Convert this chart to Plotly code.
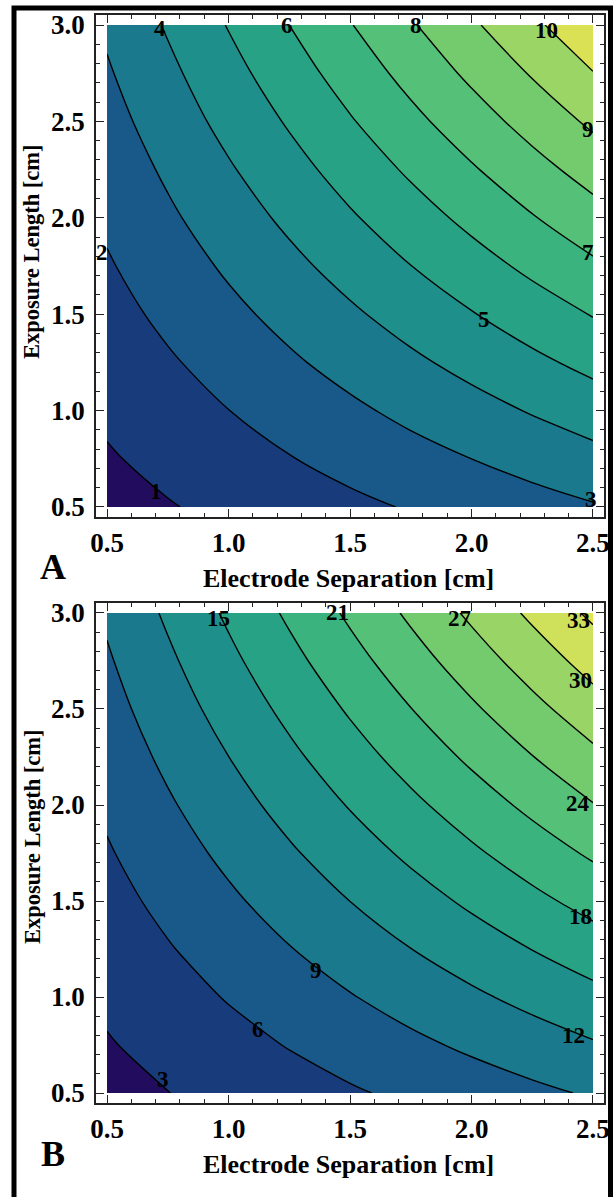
import plotly.graph_objects as go

# ---------------- data ----------------
x_sep = [0.5, 0.75, 1.0, 1.25, 1.5, 1.75, 2.0, 2.25, 2.5]
y_len = [0.5, 0.75, 1.0, 1.25, 1.5, 1.75, 2.0, 2.25, 2.5, 2.75, 3.0]

# panel A values (rows = exposure length, cols = electrode separation)
z_a = [
    [0.66, 0.94, 1.23, 1.51, 1.79, 2.07, 2.36, 2.64, 2.92],
    [0.91, 1.26, 1.61, 1.96, 2.31, 2.66, 3.00, 3.35, 3.70],
    [1.16, 1.57, 1.99, 2.41, 2.82, 3.24, 3.65, 4.07, 4.49],
    [1.41, 1.89, 2.37, 2.86, 3.34, 3.82, 4.30, 4.79, 5.27],
    [1.66, 2.21, 2.76, 3.30, 3.85, 4.40, 4.95, 5.50, 6.05],
    [1.91, 2.52, 3.14, 3.75, 4.37, 4.99, 5.60, 6.22, 6.84],
    [2.15, 2.84, 3.52, 4.20, 4.89, 5.57, 6.25, 6.94, 7.62],
    [2.40, 3.15, 3.90, 4.65, 5.40, 6.15, 6.90, 7.65, 8.40],
    [2.65, 3.47, 4.29, 5.10, 5.92, 6.74, 7.55, 8.37, 9.18],
    [2.90, 3.78, 4.67, 5.55, 6.43, 7.32, 8.20, 9.08, 9.97],
    [3.15, 4.10, 5.05, 6.00, 6.95, 7.90, 8.85, 9.80, 10.75],
]

# panel B values
z_b = [
    [2.05, 2.96, 3.86, 4.77, 5.68, 6.58, 7.49, 8.39, 9.30],
    [2.79, 3.91, 5.02, 6.14, 7.26, 8.38, 9.49, 10.61, 11.73],
    [3.52, 4.85, 6.18, 7.51, 8.84, 10.17, 11.50, 12.83, 14.16],
    [4.26, 5.80, 7.34, 8.88, 10.43, 11.97, 13.51, 15.05, 16.59],
    [5.00, 6.75, 8.50, 10.26, 12.01, 13.76, 15.52, 17.27, 19.02],
    [5.74, 7.70, 9.66, 11.63, 13.59, 15.56, 17.52, 19.49, 21.45],
    [6.47, 8.65, 10.82, 13.00, 15.18, 17.35, 19.53, 21.70, 23.88],
    [7.21, 9.60, 11.98, 14.37, 16.76, 19.15, 21.54, 23.92, 26.31],
    [7.95, 10.55, 13.15, 15.74, 18.34, 20.94, 23.54, 26.14, 28.74],
    [8.68, 11.49, 14.31, 17.12, 19.93, 22.74, 25.55, 28.36, 31.17],
    [9.42, 12.44, 15.47, 18.49, 21.51, 24.53, 27.56, 30.58, 33.60],
]

levels_a = (1, 10, 1)
levels_b = (3, 33, 3)

x_ticks = [0.5, 1.0, 1.5, 2.0, 2.5]
x_ticktext = ["0.5", "1.0", "1.5", "2.0", "2.5"]
y_ticks = [0.5, 1.0, 1.5, 2.0, 2.5, 3.0]
y_ticktext = ["0.5", "1.0", "1.5", "2.0", "2.5", "3.0"]

# contour labels (text + where they sit in the picture)
lab_a_text = ["1", "2", "3", "4", "5", "6", "7", "8", "9", "10"]
lab_a_x = [0.70, 0.48, 2.49, 0.72, 2.05, 1.24, 2.48, 1.77, 2.48, 2.31]
lab_a_y = [0.58, 1.82, 0.54, 2.98, 1.47, 3.00, 1.82, 3.00, 2.46, 2.97]

lab_b_text = ["3", "6", "9", "12", "15", "18", "21", "24", "27", "30", "33"]
lab_b_x = [0.73, 1.12, 1.36, 2.42, 0.96, 2.45, 1.45, 2.44, 1.95, 2.45, 2.44]
lab_b_y = [0.57, 0.83, 1.14, 0.80, 2.97, 1.42, 3.00, 2.01, 2.97, 2.65, 2.96]

band_colors_a = ["#210c5d", "#173b7b", "#18598a", "#1a798c", "#1e8f8a", "#27a285",
                 "#3ab37f", "#55c078", "#73cb6e", "#9ad566", "#dae154"]
band_colors_b = ["#210c5d", "#173b7b", "#18598a", "#1a798c", "#1e8f8a", "#27a285",
                 "#3ab37f", "#55c078", "#73cb6e", "#98d466", "#cfe05a", "#e4e450"]

x_title = "Electrode Separation [cm]"
y_title = "Exposure Length [cm]"


def band_scale(colors):
    n = len(colors) - 1
    return [[i / n, c] for i, c in enumerate(colors)]


SERIF = "Liberation Serif"

fig = go.Figure()
fig.add_trace(go.Contour(
    x=x_sep, y=y_len, z=z_a, xaxis="x", yaxis="y",
    autocontour=False,
    contours=dict(start=levels_a[0], end=levels_a[1], size=levels_a[2], coloring="fill"),
    colorscale=band_scale(band_colors_a), showscale=False,
    line=dict(color="black", width=1.4, smoothing=1),
    hoverinfo="skip",
))
fig.add_trace(go.Contour(
    x=x_sep, y=y_len, z=z_b, xaxis="x2", yaxis="y2",
    autocontour=False,
    contours=dict(start=levels_b[0], end=levels_b[1], size=levels_b[2], coloring="fill"),
    colorscale=band_scale(band_colors_b), showscale=False,
    line=dict(color="black", width=1.4, smoothing=1),
    hoverinfo="skip",
))

W, H = 613, 1197
ML, MR, MT, MB = 96, 9, 15, 94
PW, PH = W - ML - MR, H - MT - MB


def px_x(p):
    return (p - ML) / PW


def px_y(p):
    return (H - MB - p) / PH


common = dict(
    showline=True, linecolor="#222", linewidth=1.5, mirror="allticks",
    ticks="inside", ticklen=8, tickwidth=1.2, tickcolor="#222",
    tickfont=dict(family=SERIF, size=27, color="black", weight="bold"),
    showgrid=False, zeroline=False, automargin=False,
    minor=dict(ticks="inside", ticklen=4, tickwidth=1, tickcolor="#222",
               dtick=0.1, tick0=0.5, showgrid=False),
)
xr = [0.4547, 2.5453]
yr = [0.448, 3.052]

fig.update_layout(
    width=W, height=H, margin=dict(l=ML, r=MR, t=MT, b=MB, autoexpand=False),
    paper_bgcolor="white", plot_bgcolor="white", showlegend=False,
    xaxis=dict(domain=[0, 1], anchor="y", range=xr, tickvals=x_ticks, ticktext=x_ticktext,
               ticklabelstandoff=1, **common),
    yaxis=dict(domain=[px_y(517), 1], anchor="x", range=yr, tickvals=y_ticks, ticktext=y_ticktext,
               ticklabelstandoff=4, **common),
    xaxis2=dict(domain=[0, 1], anchor="y2", range=xr, tickvals=x_ticks, ticktext=x_ticktext,
                ticklabelstandoff=1, **common),
    yaxis2=dict(domain=[0, px_y(603)], anchor="x2", range=yr, tickvals=y_ticks, ticktext=y_ticktext,
                ticklabelstandoff=4, **common),
)

ann = []
title_font = dict(family=SERIF, size=26, color="black", weight="bold")
for yc_title, yc_xtitle, yc_letter, letter in [(252, 578, 567, "A"), (837, 1164, 1154, "B")]:
    ann.append(dict(text=x_title, xref="paper", yref="paper", x=px_x(348), y=px_y(yc_xtitle),
                    showarrow=False, font=title_font, xanchor="center", yanchor="middle"))
    ann.append(dict(text=y_title, xref="paper", yref="paper", x=px_x(32), y=px_y(yc_title),
                    showarrow=False, font=dict(family=SERIF, size=22.5, color="black", weight="bold"),
                    textangle=-90, xanchor="center", yanchor="middle"))
    ann.append(dict(text=letter, xref="paper", yref="paper", x=px_x(53), y=px_y(yc_letter),
                    showarrow=False, font=dict(family=SERIF, size=36, color="black", weight="bold"),
                    xanchor="center", yanchor="middle"))

label_font = dict(family=SERIF, size=23, color="black", weight="bold")
for t, x, y in zip(lab_a_text, lab_a_x, lab_a_y):
    ann.append(dict(text=t, x=x, y=y, xref="x", yref="y", showarrow=False, font=label_font))
for t, x, y in zip(lab_b_text, lab_b_x, lab_b_y):
    ann.append(dict(text=t, x=x, y=y, xref="x2", yref="y2", showarrow=False, font=label_font))
fig.update_layout(annotations=ann)

# outer black frame of the figure
fig.add_shape(type="rect", xref="paper", yref="paper",
              x0=px_x(14), x1=px_x(610.5), y0=px_y(1210), y1=px_y(8),
              line=dict(color="black", width=5), fillcolor="rgba(0,0,0,0)", layer="above")

fig.write_html(
    "out.html",
    config={"displayModeBar": False},
    post_script="document.body.style.margin='0px';document.body.style.overflow='hidden';",
)
